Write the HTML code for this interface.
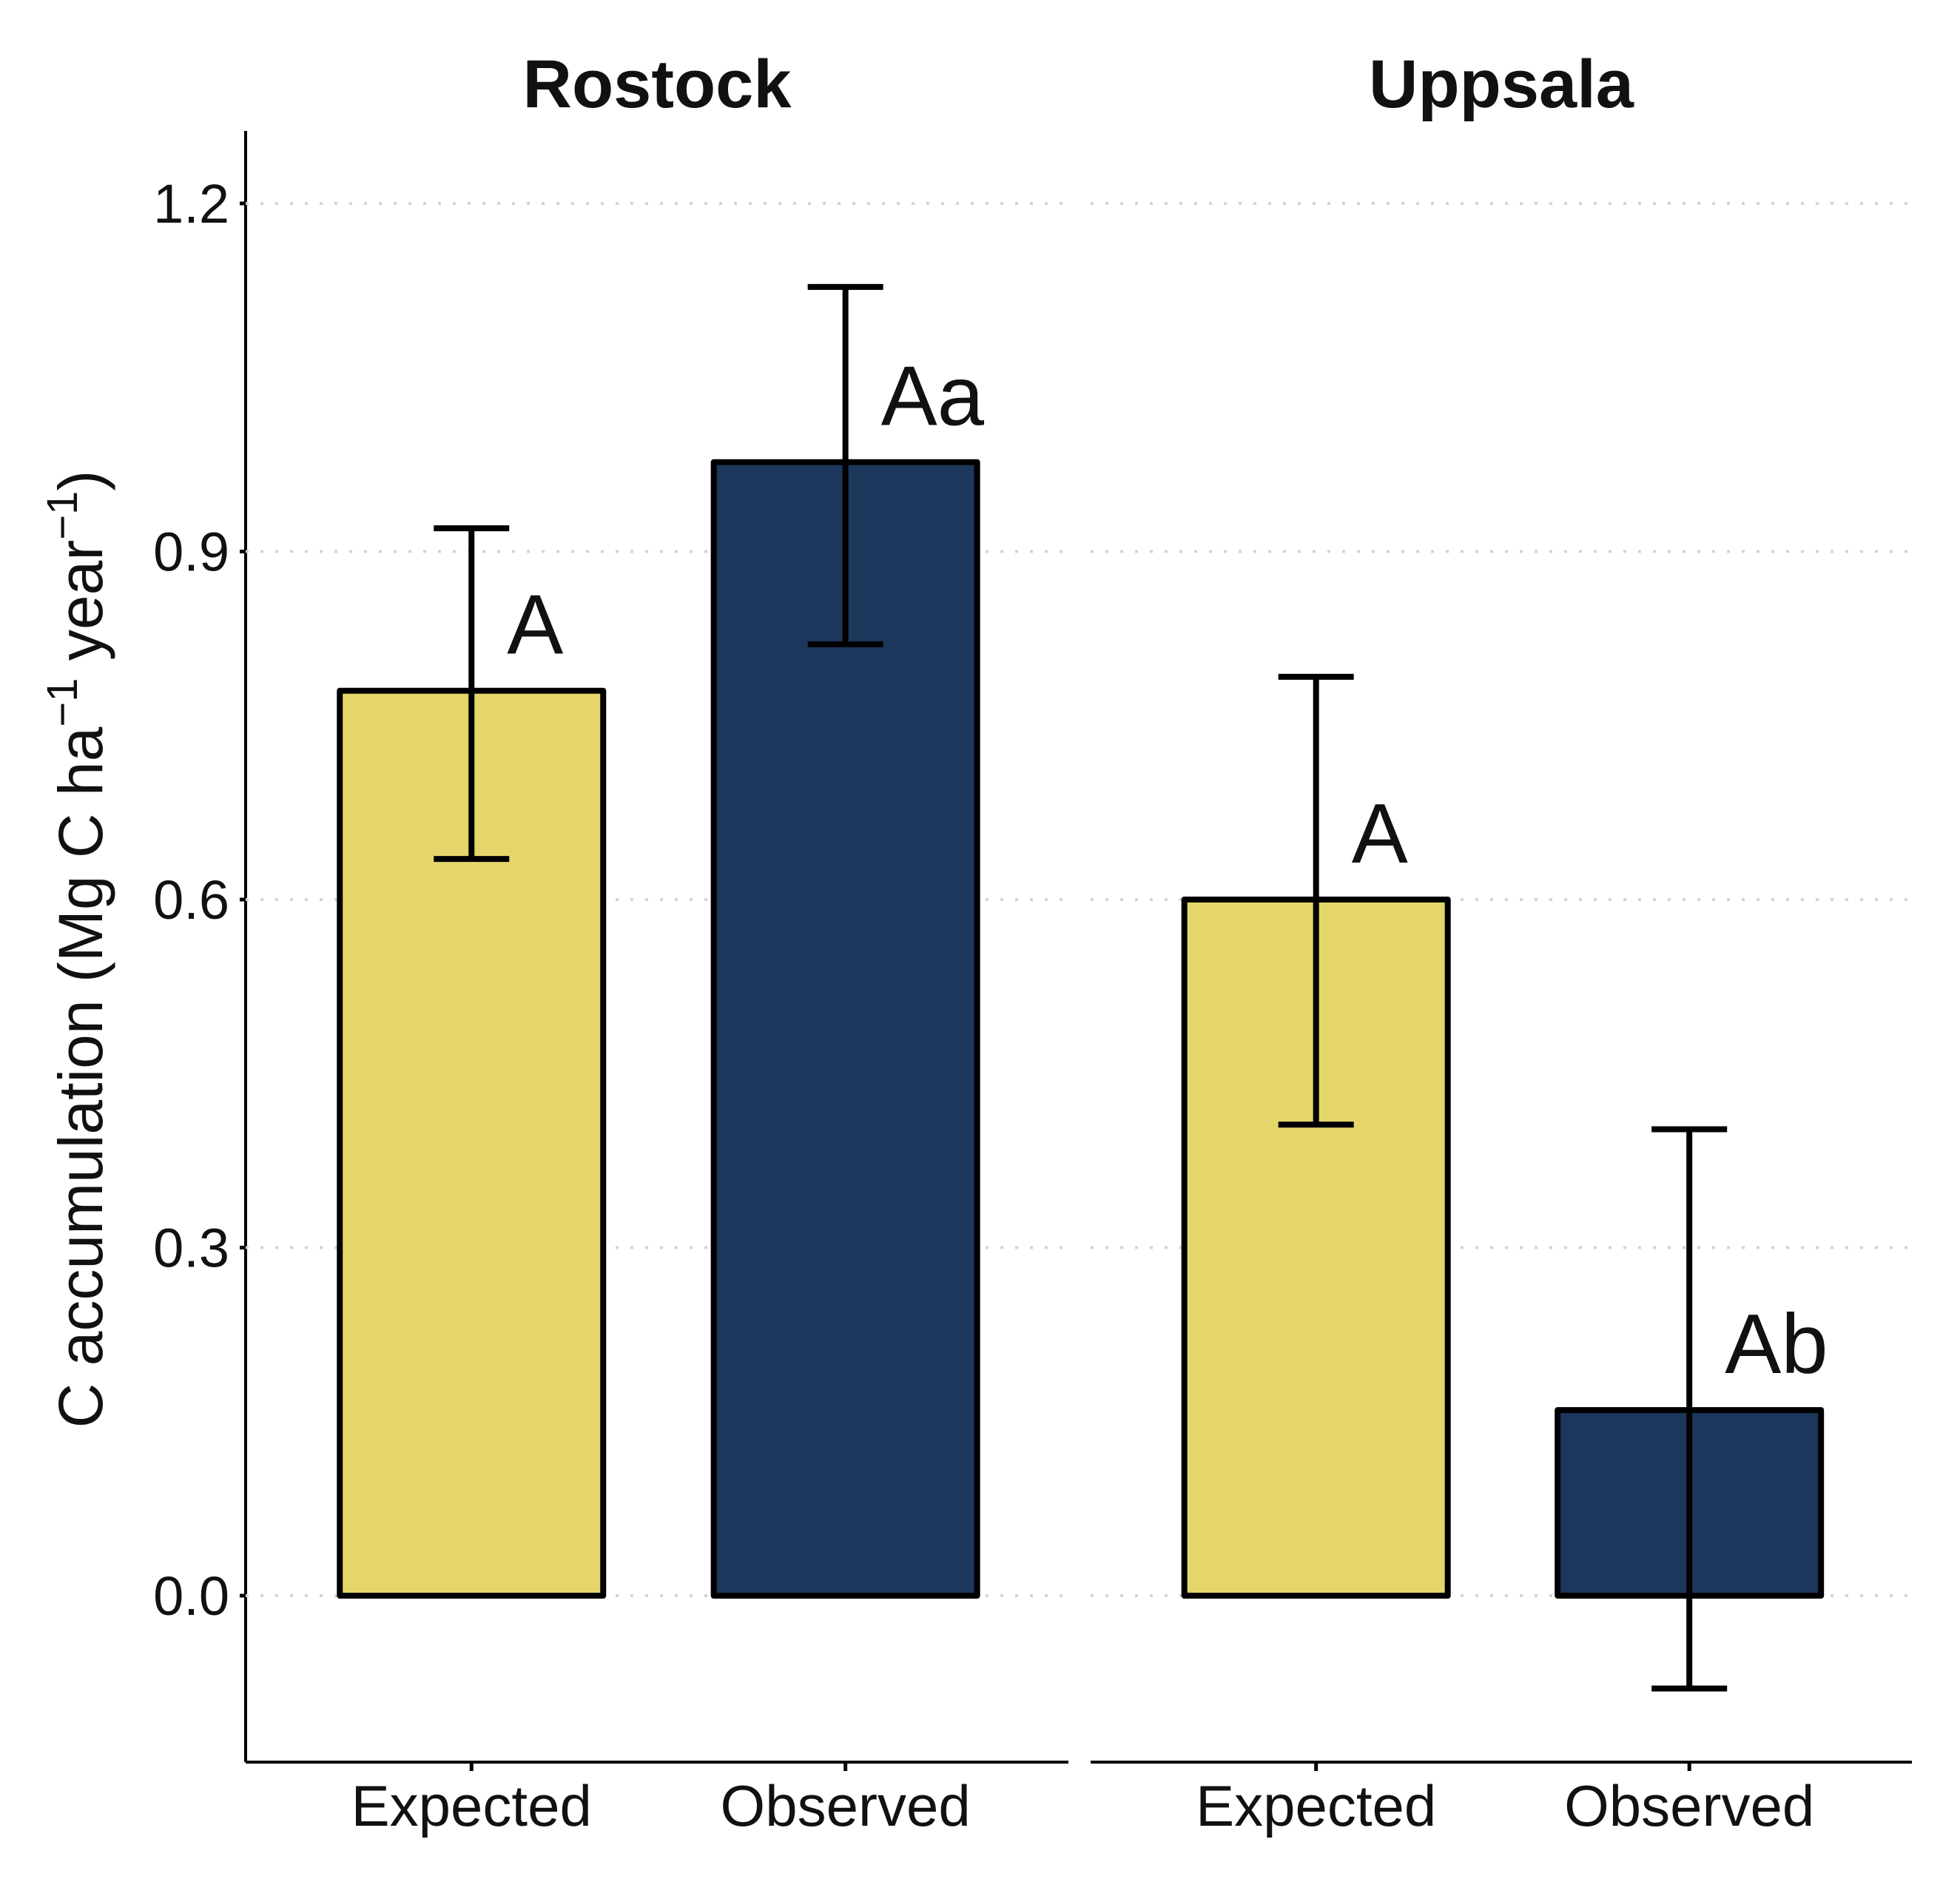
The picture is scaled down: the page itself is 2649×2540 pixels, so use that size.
<!DOCTYPE html>
<html><head><meta charset="utf-8"><style>body{margin:0;background:#fff}svg{display:block}text{font-family:"Liberation Sans",Arial,sans-serif}</style></head>
<body>
<svg id="c" width="2649" height="2540" viewBox="0 0 2649 2540"></svg>
<script>
const panels=["Rostock","Uppsala"];
const categories=["Expected","Observed"];
const means=[[0.78,0.977],[0.60,0.16]];
const errLow=[[0.635,0.82],[0.406,-0.08]];
const errHigh=[[0.92,1.128],[0.792,0.402]];
const letters=[["A","Aa"],["A","Ab"]];
const yTicks=[0,0.3,0.6,0.9,1.2];
const tickLabels=["0.0","0.3","0.6","0.9","1.2"];
const colors=["#e5d66b","#1d365c"];
const NS="http://www.w3.org/2000/svg";
const svg=document.getElementById('c');
function el(t,a,p){const e=document.createElementNS(NS,t);for(const k in a)e.setAttribute(k,a[k]);(p||svg).appendChild(e);return e;}
const y=v=>2157-v*(2157-275)/1.2;
const panelX=[[332,1444],[1474,2584]];
const bw=356;
function cx(p,i){const [a,b]=panelX[p];const w=b-a;return a+w*(0.2745+0.4545*i);}
let ax=el('line',{x1:332,y1:177,x2:332,y2:2382,stroke:'#000','stroke-width':4});

yTicks.forEach((t,i)=>{
  const g=el('line',{x1:332,y1:y(t),x2:324,y2:y(t),stroke:'#000','stroke-width':5});
  
  const tx=el('text',{x:310,y:y(t)+26,'font-size':74,'text-anchor':'end',fill:'#111'});tx.textContent=tickLabels[i];
  
});
const at=el('text',{transform:'translate(138,1283) rotate(-90)','font-size':84,'text-anchor':'middle',fill:'#111'});
at.innerHTML='C accumulation (Mg C ha<tspan dy="-34" font-size="58">−1</tspan><tspan dy="34"> year</tspan><tspan dy="-34" font-size="58">−1</tspan><tspan dy="34">)</tspan>';

panels.forEach((pn,p)=>{
  const [a,b]=panelX[p];
  const xa=el('line',{x1:a,y1:2382,x2:b,y2:2382,stroke:'#000','stroke-width':4});
  
  yTicks.forEach(t=>{const g=el('line',{x1:a,y1:y(t),x2:b,y2:y(t),stroke:'#d4d4d4','stroke-width':4,'stroke-dasharray':'4 16'});
    });
  const tt=el('text',{x:(a+b)/2,y:145,'font-size':92,'font-weight':'bold','text-anchor':'middle',fill:'#111'});tt.textContent=pn;
  
  categories.forEach((c,i)=>{
    const x=cx(p,i),v=means[p][i];
    const r=el('rect',{x:x-bw/2,y:Math.min(y(v),y(0)),width:bw,height:Math.abs(y(0)-y(v)),fill:colors[i],stroke:'#000','stroke-width':8,'stroke-linejoin':'round'});
    
    const g=el('g',{stroke:'#000','stroke-width':8});
    
    el('line',{x1:x,y1:y(errLow[p][i]),x2:x,y2:y(errHigh[p][i])},g);
    el('line',{x1:x-51,y1:y(errLow[p][i]),x2:x+51,y2:y(errLow[p][i])},g);
    el('line',{x1:x-51,y1:y(errHigh[p][i]),x2:x+51,y2:y(errHigh[p][i])},g);
    const lt=el('text',{x:x+48,y:y(v)-50,'font-size':114,fill:'#111'});lt.textContent=letters[p][i];
    
    const tk=el('line',{x1:x,y1:2382,x2:x,y2:2394,stroke:'#000','stroke-width':5});
    
    const cl=el('text',{x:x,y:2468,'font-size':78,'text-anchor':'middle',fill:'#111'});cl.textContent=c;
    
  });
});
</script>
</body></html>
